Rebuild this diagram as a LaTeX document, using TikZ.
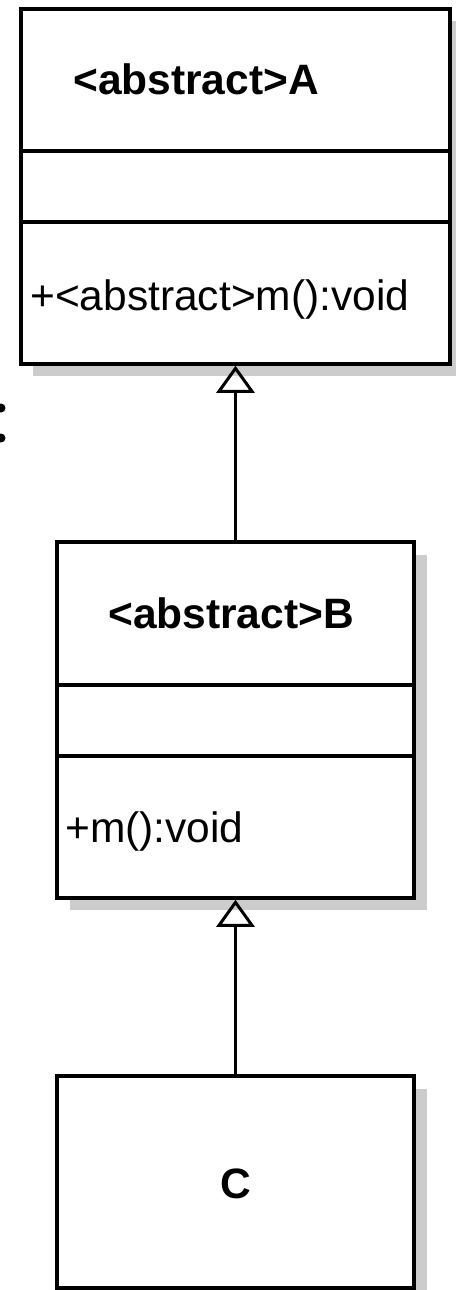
\documentclass[tikz,border=0pt]{standalone}
\usepackage{fontspec}
\setmainfont{Liberation Sans}
\usetikzlibrary{arrows.meta}
\definecolor{shadowgray}{RGB}{204,204,204}
\begin{document}
\begin{tikzpicture}[x=1pt,y=-1pt,
  umlbox/.style={draw=black, line width=3.5pt, fill=white, rectangle, inner sep=0pt},
  sep/.style={line width=3.5pt},
  lbl/.style={anchor=base west, inner sep=0pt, font=\fontsize{42.5}{50}\selectfont},
  blbl/.style={anchor=base west, inner sep=0pt, font=\fontsize{42.5}{50}\selectfont\bfseries},
  gen/.style={line width=3.5pt, -{Triangle[open, length=27pt, width=38pt, line width=3pt]}},
  dotmark/.style={fill=black}
]
\fill[white] (0,0) rectangle (456,1290);
\useasboundingbox (0,0) rectangle (456,1290);
% shadows
\fill[shadowgray] (33,21) rectangle (456,376);
\fill[shadowgray] (70,555) rectangle (427,910);
\fill[shadowgray] (70,1089) rectangle (427,1290);
% class A
\node[umlbox, minimum width=429pt, minimum height=355pt] (A) at (235.5,186.5) {};
\draw[sep] (A.west |- 0,151) -- (A.east |- 0,151);
\draw[sep] (A.west |- 0,222) -- (A.east |- 0,222);
\node[blbl] (Atitle) at (73,95) {<abstract>A};
\node[lbl] (Am) at (30,310) {+<abstract>m():void};
% class B
\node[umlbox, minimum width=357pt, minimum height=356pt] (B) at (235.5,720) {};
\draw[sep] (B.west |- 0,685) -- (B.east |- 0,685);
\draw[sep] (B.west |- 0,756) -- (B.east |- 0,756);
\node[blbl] (Btitle) at (108,628) {<abstract>B};
\node[lbl] (Bm) at (65,842) {+m():void};
% class C
\node[umlbox, minimum width=357pt, minimum height=212pt] (C) at (235.5,1182) {};
\node[blbl] (Ctitle) at (220,1198) {C};
% generalizations
\draw[gen] (B.north) -- (A.south);
\draw[gen] (C.north) -- (B.south);
% dots at left edge
\fill[dotmark] (1,408) circle (4.5pt);
\fill[dotmark] (1,438) circle (4.5pt);
\end{tikzpicture}
\end{document}
